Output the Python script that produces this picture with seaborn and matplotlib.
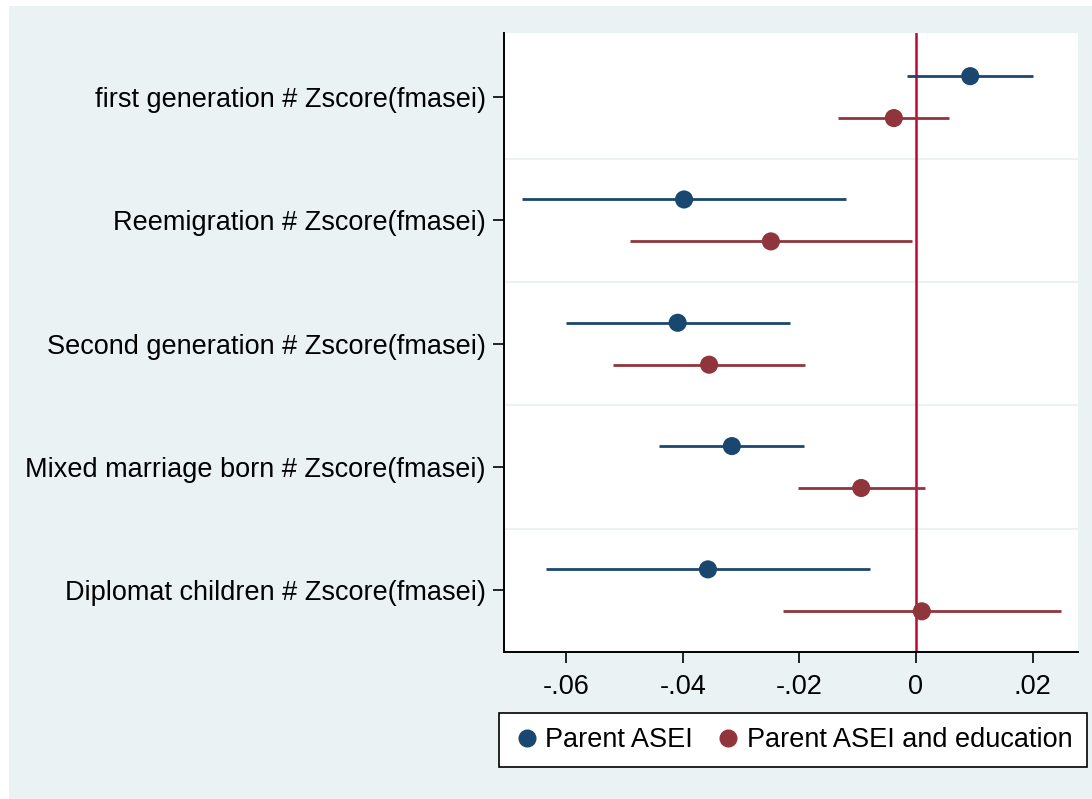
import numpy as np
import pandas as pd
import matplotlib.pyplot as plt
import seaborn as sns
from matplotlib.patches import Rectangle

# Coefficients and 95% CIs
terms = [
    "first generation # Zscore(fmasei)",
    "Reemigration # Zscore(fmasei)",
    "Second generation # Zscore(fmasei)",
    "Mixed marriage born # Zscore(fmasei)",
    "Diplomat children # Zscore(fmasei)",
]
models = ["Parent ASEI", "Parent ASEI and education"]

asei_coef = [0.0093, -0.0398, -0.0409, -0.0316, -0.0357]
asei_lo = [-0.0015, -0.0676, -0.0601, -0.0441, -0.0635]
asei_hi = [0.0200, -0.0120, -0.0216, -0.0192, -0.0079]

edu_coef = [-0.0038, -0.0249, -0.0355, -0.0094, 0.0010]
edu_lo = [-0.0134, -0.0491, -0.0520, -0.0203, -0.0228]
edu_hi = [0.0057, -0.0007, -0.0190, 0.0015, 0.0249]

xticks = [-0.06, -0.04, -0.02, 0, 0.02]
xtick_labels = ["-.06", "-.04", "-.02", "0", ".02"]

df = pd.DataFrame({
    "term": terms * 2,
    "pos": list(range(len(terms))) * 2,
    "model": [models[0]] * len(terms) + [models[1]] * len(terms),
    "coef": asei_coef + edu_coef,
    "lo": asei_lo + edu_lo,
    "hi": asei_hi + edu_hi,
})
offset = {models[0]: -0.17, models[1]: 0.17}
df["y"] = df["pos"] + df["model"].map(offset)

palette = {models[0]: "#1a476f", models[1]: "#90353b"}

sns.set_style("white")
plt.rcParams["font.family"] = ["Liberation Sans", "DejaVu Sans"]
plt.rcParams["text.color"] = "black"
plt.rcParams["xtick.color"] = "black"
plt.rcParams["ytick.color"] = "black"

fig = plt.figure(figsize=(10.92, 7.99), dpi=100)
fig.patch.set_facecolor("white")
fig.patches.append(Rectangle((9 / 1092, 0), 1 - 9 / 1092, 1 - 6 / 799,
                             transform=fig.transFigure, facecolor="#eaf2f3",
                             edgecolor="none", zorder=-10))

ax = fig.add_axes([504 / 1092, 1 - 652 / 799, (1078 - 504) / 1092, (652 - 33) / 799])
ax.set_facecolor("white")

# category separators
for b in np.arange(0.5, len(terms) - 0.5, 1):
    ax.axhline(b, color="#eaf2f3", lw=1.5, zorder=0)

ax.axvline(0, color="#c10534", lw=1.8, zorder=1)

for m in models:
    sub = df[df["model"] == m]
    ax.hlines(sub["y"], sub["lo"], sub["hi"], color=palette[m], lw=2, zorder=2)

sns.scatterplot(data=df, x="coef", y="y", hue="model", palette=palette,
                s=170, edgecolor="none", ax=ax, zorder=3, legend=False)

ax.set_xlim(-0.0707, 0.0278)
ax.set_ylim(len(terms) - 0.5, -0.52)
ax.set_xticks(xticks)
ax.set_xticklabels(xtick_labels)
ax.set_yticks(range(len(terms)))
ax.set_yticklabels(terms)
ax.set_xlabel("")
ax.set_ylabel("")
ax.tick_params(axis="both", which="major", direction="out", length=8,
               width=1.2, color="black", labelcolor="black", labelsize=19.5,
               pad=5, left=True, bottom=True)
ax.tick_params(axis="x", pad=8)
for s in ["top", "right"]:
    ax.spines[s].set_visible(False)
for s in ["left", "bottom"]:
    ax.spines[s].set_color("black")
    ax.spines[s].set_linewidth(1.4)

handles = [plt.Line2D([], [], marker="o", ls="none", color=palette[m], markersize=12)
           for m in models]
leg = fig.legend(handles, models, loc="center", ncol=2,
                 bbox_to_anchor=(793 / 1092, 1 - 740 / 799), fontsize=19.5,
                 frameon=True, fancybox=False, edgecolor="black",
                 handletextpad=0.2, columnspacing=0.8, borderpad=0.5,
                 borderaxespad=0, handlelength=1.0, facecolor="white", framealpha=1)
leg.get_frame().set_linewidth(1.2)

fig.savefig("out.png", dpi=100)
